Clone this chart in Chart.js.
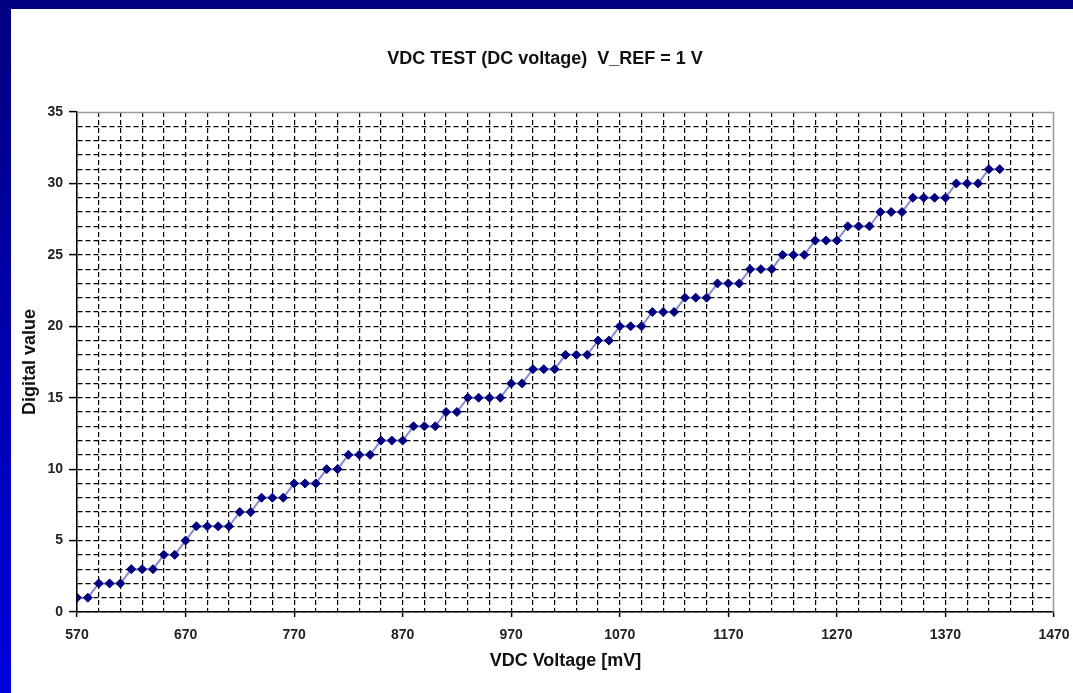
<!DOCTYPE html>
<html>
<head>
<meta charset="utf-8">
<script src="https://cdn.jsdelivr.net/npm/chart.js@4.4.1/dist/chart.umd.min.js"></script>
<style>
  html, body { margin: 0; padding: 0; background: #fff; }
  #wrap { width: 1073px; height: 693px; position: relative; }
</style>
</head>
<body>
<div id="wrap"><canvas id="c" width="1073" height="693"></canvas></div>
<script>
const chartTitle = 'VDC TEST (DC voltage)  V_REF = 1 V';
const xTitle = 'VDC Voltage [mV]';
const yTitle = 'Digital value';

const voltages = [570, 580, 590, 600, 610, 620, 630, 640, 650, 660, 670, 680, 690, 700, 710, 720, 730, 740, 750, 760,
  770, 780, 790, 800, 810, 820, 830, 840, 850, 860, 870, 880, 890, 900, 910, 920, 930, 940, 950, 960,
  970, 980, 990, 1000, 1010, 1020, 1030, 1040, 1050, 1060, 1070, 1080, 1090, 1100, 1110, 1120, 1130, 1140, 1150, 1160,
  1170, 1180, 1190, 1200, 1210, 1220, 1230, 1240, 1250, 1260, 1270, 1280, 1290, 1300, 1310, 1320, 1330, 1340, 1350, 1360,
  1370, 1380, 1390, 1400, 1410, 1420];
const digitalValues = [1, 1, 2, 2, 2, 3, 3, 3, 4, 4, 5, 6, 6, 6, 6, 7, 7, 8, 8, 8,
  9, 9, 9, 10, 10, 11, 11, 11, 12, 12, 12, 13, 13, 13, 14, 14, 15, 15, 15, 15,
  16, 16, 17, 17, 17, 18, 18, 18, 19, 19, 20, 20, 20, 21, 21, 21, 22, 22, 22, 23,
  23, 23, 24, 24, 24, 25, 25, 25, 26, 26, 26, 27, 27, 27, 28, 28, 28, 29, 29, 29,
  29, 30, 30, 30, 31, 31];
const xTickLabels = [570, 670, 770, 870, 970, 1070, 1170, 1270, 1370, 1470];
const yTickLabels = [0, 5, 10, 15, 20, 25, 30, 35];

const FONT = '"Liberation Sans", Arial, sans-serif';

const framePlugin = {
  id: 'frame',
  beforeDraw(chart) {
    const ctx = chart.ctx;
    const W = chart.width, H = chart.height;
    ctx.save();
    ctx.fillStyle = '#ffffff';
    ctx.fillRect(0, 0, W, H);
    const g = ctx.createLinearGradient(0, 0, 0, H);
    g.addColorStop(0, '#000080');
    g.addColorStop(1, '#0000dc');
    ctx.fillStyle = g;
    ctx.fillRect(0, 0, 11, H);
    ctx.fillStyle = '#000080';
    ctx.fillRect(0, 0, W, 9);
    ctx.restore();
  },
  beforeDatasetsDraw(chart) {
    const ctx = chart.ctx;
    const a = chart.chartArea;
    ctx.save();
    ctx.strokeStyle = '#9a9a9a';
    ctx.lineWidth = 1.5;
    ctx.beginPath();
    ctx.moveTo(a.left, a.top + 0.5);
    ctx.lineTo(a.right - 0.5, a.top + 0.5);
    ctx.lineTo(a.right - 0.5, a.bottom);
    ctx.stroke();
    ctx.restore();
  },
  afterDraw(chart) {
    const ctx = chart.ctx;
    ctx.save();
    ctx.fillStyle = '#111';
    ctx.font = 'bold 18px ' + FONT;
    ctx.textAlign = 'center';
    ctx.textBaseline = 'middle';
    ctx.fillText(chartTitle, 545, 59);
    ctx.restore();
  }
};

new Chart(document.getElementById('c'), {
  type: 'line',
  data: {
    datasets: [{
      data: voltages.map((v, i) => ({ x: v, y: digitalValues[i] })),
      borderColor: '#8a8ad0',
      borderWidth: 2,
      pointStyle: 'rectRot',
      pointRadius: 4.5,
      pointBorderWidth: 1,
      pointBackgroundColor: '#000080',
      pointBorderColor: '#000080',
      tension: 0
    }]
  },
  options: {
    responsive: false,
    animation: false,
    devicePixelRatio: 1,
    layout: { padding: { left: 11, top: 112, right: 19, bottom: 0 } },
    plugins: { legend: { display: false }, tooltip: { enabled: false }, title: { display: false } },
    scales: {
      x: {
        type: 'linear',
        min: 570,
        max: 1470,
        afterFit(s) { s.height = 81; s.paddingRight = 0; s.paddingLeft = 0; },
        border: { display: true, color: '#000', width: 1.5, dash: [5, 3] },
        grid: {
          color: (c) => (c.tick && c.tick.value === 1470) ? 'rgba(0,0,0,0)' : '#000',
          lineWidth: 1.2,
          drawTicks: true,
          tickLength: 5,
          tickColor: (c) => (c.tick && xTickLabels.includes(c.tick.value)) ? '#000' : 'rgba(0,0,0,0)',
          tickWidth: 1.5
        },
        ticks: {
          stepSize: 20,
          autoSkip: false,
          maxRotation: 0,
          minRotation: 0,
          padding: 10,
          color: '#222',
          font: { family: FONT, size: 14, weight: 'bold' },
          callback: (v) => xTickLabels.includes(v) ? String(v) : ''
        },
        title: {
          display: true,
          text: xTitle,
          color: '#111',
          font: { family: FONT, size: 18, weight: 'bold' },
          padding: { top: 0, bottom: 21 }
        }
      },
      y: {
        type: 'linear',
        min: 0,
        max: 35,
        afterFit(s) { s.width = 66; s.paddingTop = 0; s.paddingBottom = 0; },
        border: { display: true, color: '#000', width: 1.5, dash: [5, 3] },
        grid: {
          color: (c) => (c.tick && c.tick.value === 35) ? 'rgba(0,0,0,0)' : '#000',
          lineWidth: 1.2,
          drawTicks: true,
          tickLength: 8,
          tickColor: (c) => (c.tick && yTickLabels.includes(c.tick.value)) ? '#000' : 'rgba(0,0,0,0)',
          tickWidth: 1.5
        },
        ticks: {
          stepSize: 1,
          autoSkip: false,
          padding: 6,
          color: '#222',
          font: { family: FONT, size: 14, weight: 'bold' },
          callback: (v) => yTickLabels.includes(v) ? String(v) : ''
        },
        title: {
          display: true,
          text: yTitle,
          color: '#111',
          font: { family: FONT, size: 18, weight: 'bold' },
          padding: { top: 8, bottom: 0 }
        }
      }
    }
  },
  plugins: [framePlugin]
});
</script>
</body>
</html>
